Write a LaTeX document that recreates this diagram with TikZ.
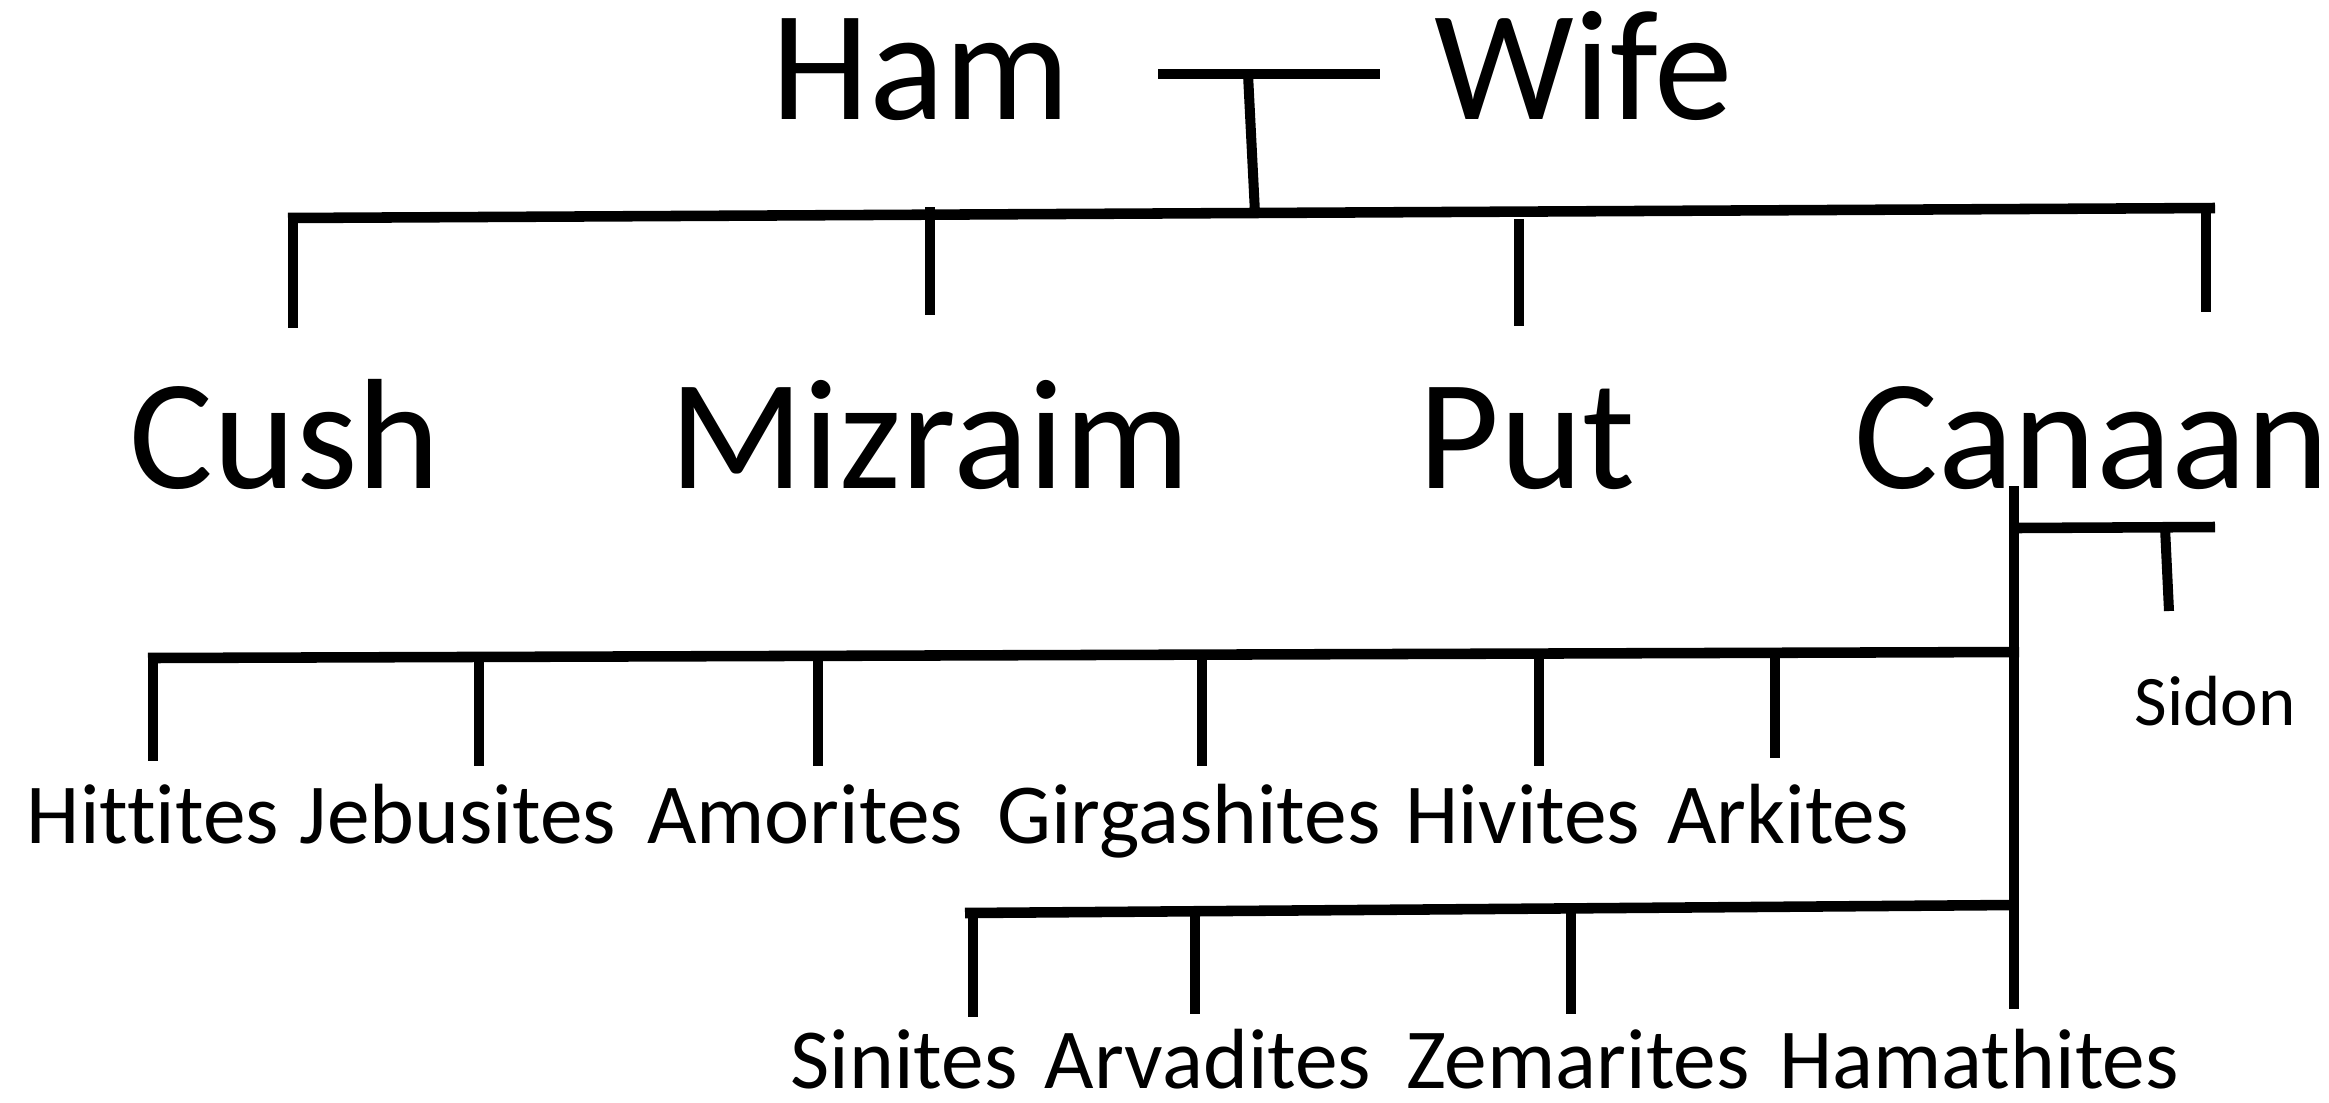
\documentclass[tikz,border=0pt]{standalone}
\usepackage{fontspec}
\setmainfont{Carlito}[Ligatures=NoCommon]
\begin{document}
\begin{tikzpicture}[x=0.01cm,y=-0.01cm,
  bigname/.style={font=\fontsize{44.7pt}{50pt}\selectfont, inner sep=0pt, anchor=base},
  midname/.style={font=\fontsize{24.3pt}{29pt}\selectfont, inner sep=0pt, anchor=base},
  lowname/.style={midname, text depth=0pt},
  smallname/.style={font=\fontsize{20.2pt}{24pt}\selectfont, inner sep=0pt, anchor=base},
  barline/.style={line width=3pt},
  stemline/.style={line width=2.85pt}]
\useasboundingbox (0,0) rectangle (2329,1102);

% texts
\node[bigname] (ham) at (921,119) {Ham};
\node[bigname] (wife) at (1584,119) {Wife};
\node[bigname] (cush) at (285,488) {Cush};
\node[bigname] (mizraim) at (930,488) {Mizraim};
\node[bigname] (put) at (1527,488) {Put};
\node[bigname] (canaan) at (2092,488) {Canaan};
\node[smallname] (sidon) at (2215,725) {Sidon};
\node[midname] (hittites) at (153,843) {Hittites};
\node[midname] (jebusites) at (458,843) {Jebusites};
\node[midname] (amorites) at (805,843) {Amorites};
\node[midname] (girgashites) at (1189,843) {Girgashites};
\node[midname] (hivites) at (1523,843) {Hivites};
\node[midname] (arkites) at (1788,843) {Arkites};
\node[lowname] (sinites) at (904,1088) {Sinites};
\node[lowname] (arvadites) at (1208,1088) {Arvadites};
\node[lowname] (zemarites) at (1578,1088) {Zemarites};
\node[lowname] (hamathites) at (1979,1088) {Hamathites};

% coordinates
\coordinate (hwL) at (1158,74);
\coordinate (hwR) at (1380,74);
\coordinate (hwM) at (1248,74);
\coordinate (tbL) at (288,218);
\coordinate (tbR) at (2215,208);
\coordinate (tbM) at (1255,213);
\coordinate (cushT) at (293,218);   \coordinate (cushB) at (293,328);
\coordinate (mizT) at (930,207);    \coordinate (mizB) at (930,315);
\coordinate (putT) at (1519,219);   \coordinate (putB) at (1519,326);
\coordinate (canT) at (2206,208);   \coordinate (canB) at (2206,312);
\coordinate (trunkT) at (2014,486);
\coordinate (trunkB) at (2014,1009);
\coordinate (sbL) at (2014,528);    \coordinate (sbR) at (2215,527);
\coordinate (sidT) at (2165,527);   \coordinate (sidB) at (2169,611);
\coordinate (r3L) at (148,658);     \coordinate (r3R) at (2019,652);
\coordinate (hitT) at (153,658);    \coordinate (hitB) at (153,761);
\coordinate (jebT) at (479,657);    \coordinate (jebB) at (479,766);
\coordinate (amoT) at (818,656);    \coordinate (amoB) at (818,766);
\coordinate (girT) at (1202,655);   \coordinate (girB) at (1202,766);
\coordinate (hivT) at (1539,654);   \coordinate (hivB) at (1539,766);
\coordinate (arkT) at (1775,653);   \coordinate (arkB) at (1775,758);
\coordinate (r4L) at (965,913);     \coordinate (r4R) at (2014,905);
\coordinate (sinT) at (973,913);    \coordinate (sinB) at (973,1017);
\coordinate (arvT) at (1195,911);   \coordinate (arvB) at (1195,1014);
\coordinate (zemT) at (1571,908);   \coordinate (zemB) at (1571,1014);

% lines
\draw[barline] (hwL) -- (hwR);
\draw[stemline] (hwM) -- (tbM);
\draw[barline] (tbL) -- (tbR);
\draw[stemline] (cushT) -- (cushB);
\draw[stemline] (mizT) -- (mizB);
\draw[stemline] (putT) -- (putB);
\draw[stemline] (canT) -- (canB);
\draw[stemline] (trunkT) -- (trunkB);
\draw[barline] (sbL) -- (sbR);
\draw[stemline] (sidT) -- (sidB);
\draw[barline] (r3L) -- (r3R);
\draw[stemline] (hitT) -- (hitB);
\draw[stemline] (jebT) -- (jebB);
\draw[stemline] (amoT) -- (amoB);
\draw[stemline] (girT) -- (girB);
\draw[stemline] (hivT) -- (hivB);
\draw[stemline] (arkT) -- (arkB);
\draw[barline] (r4L) -- (r4R);
\draw[stemline] (sinT) -- (sinB);
\draw[stemline] (arvT) -- (arvB);
\draw[stemline] (zemT) -- (zemB);
\end{tikzpicture}
\end{document}
